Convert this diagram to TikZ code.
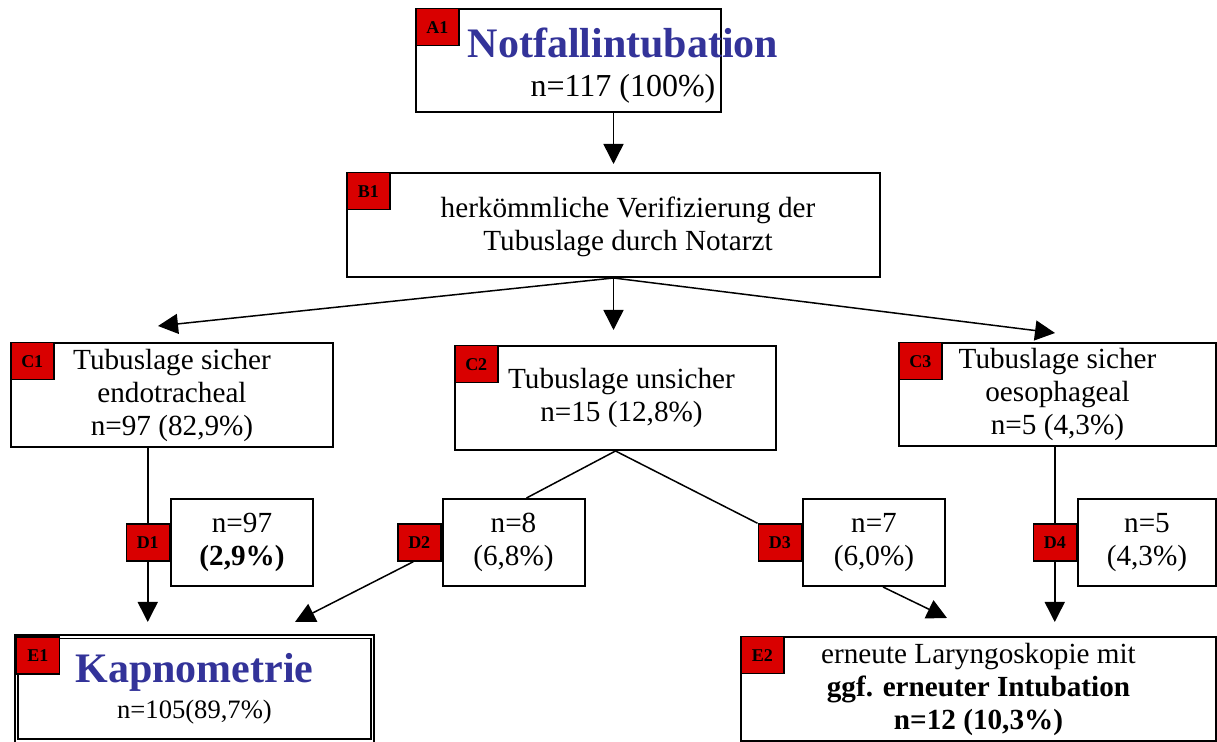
\documentclass[tikz,border=0pt]{standalone}
\usepackage{fontspec}
\setmainfont{Liberation Serif}
\usepackage{tikz}
\usetikzlibrary{arrows.meta, calc}

\definecolor{tagred}{RGB}{217,0,0}
\definecolor{titleblue}{RGB}{51,51,153}
\newcommand{\grundtext}{\fontsize{14.6}{16.5}\selectfont}
\newcommand{\kopf}[1]{{\fontsize{21}{24}\selectfont\bfseries\color{titleblue}#1}}

\begin{document}
\begin{tikzpicture}[
        x=0.5pt, y=-0.5pt,
        box/.style={
            rectangle,
            draw=black,
            line width=1pt,
            fill=white,
            align=center,
            inner sep=0pt,
            font=\grundtext
        },
        dbox/.style={box, minimum width=71pt, minimum height=43.5pt},
        tag/.style={
            rectangle,
            draw=black,
            line width=0.75pt,
            fill=tagred,
            minimum width=21.5pt,
            minimum height=18.5pt,
            inner sep=0pt,
            font=\fontsize{9}{10}\selectfont\bfseries
        },
        boxtext/.style={align=center, inner sep=0pt, font=\grundtext},
        arr/.style={-{Triangle[length=10pt, width=10pt]}, line width=0.75pt},
        link/.style={line width=0.75pt}
    ]
    \useasboundingbox (0,0) rectangle (1217,742);

    % A / B
    \node[box, minimum width=152.5pt, minimum height=51.5pt] (a1) at (568.5,60.5) {};
    \node[boxtext] (a1txt) at (623,66) {\kopf{Notfallintubation}\\[3pt]{\fontsize{16}{19}\selectfont n=117 (100\%)}};
    \node[tag, anchor=north west] (a1tag) at (a1.north west) {A1};

    \node[box, minimum width=266.5pt, minimum height=52pt] (b1) at (613.5,225) {};
    \node[boxtext] (b1txt) at (628,227) {herkömmliche Verifizierung der\\Tubuslage durch Notarzt};
    \node[tag, anchor=north west] (b1tag) at (b1.north west) {B1};

    % C
    \node[box, minimum width=161pt, minimum height=52pt] (c1) at (172,395) {Tubuslage sicher\\endotracheal\\n=97 (82,9\%)};
    \node[box, minimum width=160.5pt, minimum height=52pt] (c2) at (615.5,398) {\hspace*{6pt}Tubuslage unsicher\\\hspace*{6pt}n=15 (12,8\%)};
    \node[box, minimum width=158.5pt, minimum height=51.5pt] (c3) at (1057.5,394.5) {Tubuslage sicher\\oesophageal\\n=5 (4,3\%)};
    \node[tag, anchor=north west] (c1tag) at (c1.north west) {C1};
    \node[tag, anchor=north west] (c2tag) at (c2.north west) {C2};
    \node[tag, anchor=north west] (c3tag) at (c3.north west) {C3};

    % D
    \node[dbox] (d1) at (242,542.5) {n=97\\\textbf{(2,9\%)}};
    \node[dbox] (d2) at (513.5,542.5) {n=8\\(6,8\%)};
    \node[dbox] (d3) at (874,542.5) {n=7\\(6,0\%)};
    \node[dbox, minimum width=69pt] (d4) at (1147,542.5) {n=5\\(4,3\%)};
    \node[tag, anchor=east] (d1tag) at (d1.west) {D1};
    \node[tag, anchor=east] (d2tag) at (d2.west) {D2};
    \node[tag, anchor=east] (d3tag) at (d3.west) {D3};
    \node[tag, anchor=east] (d4tag) at (d4.west) {D4};

    % E
    \node[box, double, double distance=0.9pt, line width=0.8pt, minimum width=178pt, minimum height=52pt] (e1) at (194.5,689) {\kopf{Kapnometrie}\\[1.5pt]{\fontsize{13.3}{16}\selectfont n=105(89,7\%)}};
    \node[box, minimum width=237.5pt, minimum height=52pt] (e2) at (978.5,689) {erneute Laryngoskopie mit\\\textbf{ggf. erneuter Intubation}\\\textbf{n=12 (10,3\%)}};
    \node[tag, anchor=north west] (e1tag) at (e1.north west) {E1};
    \node[tag, anchor=north west] (e2tag) at (e2.north west) {E2};

    \coordinate (c1in) at (158,326);
    \coordinate (c2in) at (613.5,330);
    \coordinate (c3in) at (1055,333);
    \coordinate (e1in1) at (d1tag.south |- 0,622);
    \coordinate (e1in2) at (295,622);
    \coordinate (e2in1) at (947,618);
    \coordinate (e2in2) at (d4tag.south |- 0,622);

    \draw[arr] (a1.south -| b1.north) -- ([yshift=4pt]b1.north);
    \draw[arr] (b1.south) -- (c1in);
    \draw[arr] (b1.south) -- (c2in);
    \draw[arr] (b1.south) -- (c3in);
    \draw[link] (d1tag.north |- c1.south) -- (d1tag.north);
    \draw[arr] (d1tag.south) -- (e1in1);
    \draw[link] (c2.south) -- ($(d2.north)+(13,0)$);
    \draw[link] (c2.south) -- (d3tag.north west);
    \draw[arr] ([xshift=-3pt]d2tag.south) -- (e1in2);
    \draw[arr] ($(d3.south)+(9,0)$) -- (e2in1);
    \draw[link] (d4tag.north |- c3.south) -- (d4tag.north);
    \draw[arr] (d4tag.south) -- (e2in2);
\end{tikzpicture}
\end{document}
